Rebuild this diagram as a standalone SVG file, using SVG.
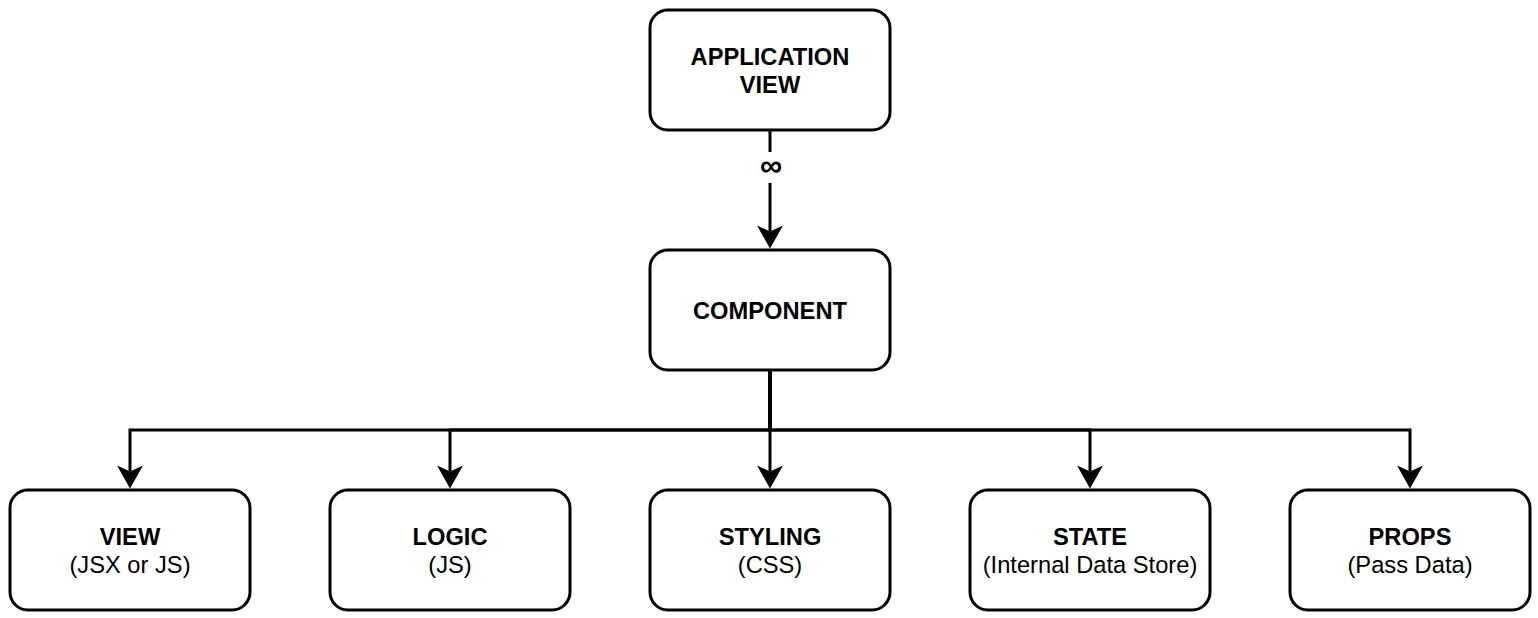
<svg xmlns="http://www.w3.org/2000/svg" width="1538" height="618" viewBox="0 0 1538 618">
<style>
.box{fill:#fff;stroke:#000;stroke-width:3}
.t{font-family:"Liberation Sans",Arial,Helvetica,sans-serif;font-size:23.7px;fill:#000;text-anchor:middle}
.b{font-weight:bold}
.inf{font-size:31px}
.edge{fill:none;stroke:#000;stroke-width:3;stroke-linejoin:miter;stroke-miterlimit:10}
</style>
<defs>
<marker id="arr" markerUnits="userSpaceOnUse" viewBox="0 0 23 26" markerWidth="23" markerHeight="26" refX="6" refY="13" orient="auto">
<path d="M23,13 L0,0 L6,13 L0,26 Z" fill="#000"/>
</marker>
</defs>
<rect width="1538" height="618" fill="#fff"/>
<g id="connectors">
<path class="edge" d="M770,130 V231.5" marker-end="url(#arr)"/>
<rect x="756" y="152" width="30" height="31" fill="#fff"/>
<text class="t b inf" x="771" y="176">∞</text>
<path class="edge" d="M770,370 V430 H130 V471.5" marker-end="url(#arr)"/>
<path class="edge" d="M770,370 V430 H450 V471.5" marker-end="url(#arr)"/>
<path class="edge" d="M770,370 V471.5" marker-end="url(#arr)"/>
<path class="edge" d="M770,370 V430 H1090 V471.5" marker-end="url(#arr)"/>
<path class="edge" d="M770,370 V430 H1410 V471.5" marker-end="url(#arr)"/>
</g>
<g id="app-view">
<rect class="box" x="650" y="10" width="240" height="120" rx="18"/>
<text class="t b" x="770" y="65">APPLICATION</text>
<text class="t b" x="770" y="93">VIEW</text>
</g>
<g id="component">
<rect class="box" x="650" y="250" width="240" height="120" rx="18"/>
<text class="t b" x="770" y="319">COMPONENT</text>
</g>
<g id="view">
<rect class="box" x="10" y="490" width="240" height="120" rx="18"/>
<text class="t b" x="130" y="545">VIEW</text>
<text class="t" x="130" y="573">(JSX or JS)</text>
</g>
<g id="logic">
<rect class="box" x="330" y="490" width="240" height="120" rx="18"/>
<text class="t b" x="450" y="545">LOGIC</text>
<text class="t" x="450" y="573">(JS)</text>
</g>
<g id="styling">
<rect class="box" x="650" y="490" width="240" height="120" rx="18"/>
<text class="t b" x="770" y="545">STYLING</text>
<text class="t" x="770" y="573">(CSS)</text>
</g>
<g id="state">
<rect class="box" x="970" y="490" width="240" height="120" rx="18"/>
<text class="t b" x="1090" y="545">STATE</text>
<text class="t" x="1090" y="573">(Internal Data Store)</text>
</g>
<g id="props">
<rect class="box" x="1290" y="490" width="240" height="120" rx="18"/>
<text class="t b" x="1410" y="545">PROPS</text>
<text class="t" x="1410" y="573">(Pass Data)</text>
</g>
</svg>
